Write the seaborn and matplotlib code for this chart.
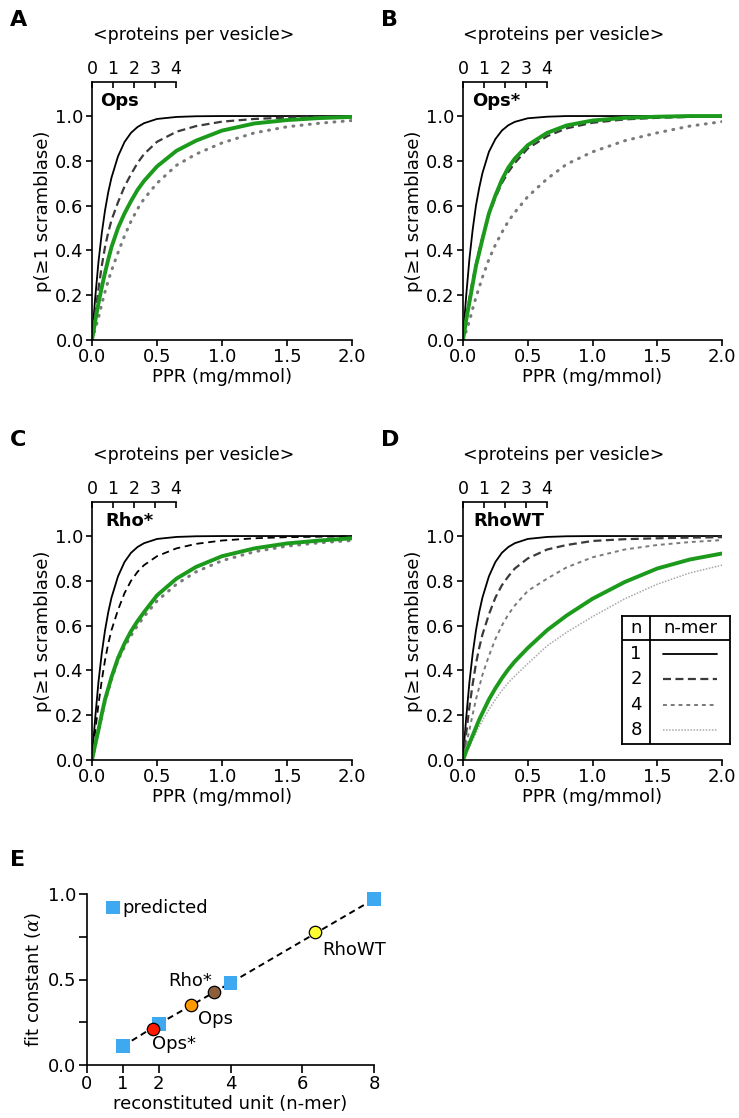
import numpy as np
import pandas as pd
import matplotlib.pyplot as plt
import seaborn as sns

sns.set_theme(style="ticks")
plt.rcParams['font.family'] = ['DejaVu Sans']
plt.rcParams['axes.linewidth'] = 1.2
plt.rcParams['mathtext.fontset'] = 'dejavuserif'
for key in ['text.color', 'axes.labelcolor', 'xtick.color', 'ytick.color', 'axes.edgecolor']:
    plt.rcParams[key] = 'black'

# ---------------- data ----------------
ppr = [0, 0.01, 0.025, 0.05, 0.075, 0.1, 0.125, 0.15, 0.2, 0.25, 0.3, 0.35, 0.4,
       0.5, 0.65, 0.8, 1.0, 1.25, 1.5, 1.75, 2.0]

# panel A: Ops
ops_n1 = [0, 0.083, 0.19, 0.35, 0.476, 0.578, 0.66, 0.725, 0.82, 0.884, 0.925, 0.951, 0.968,
          0.987, 0.996, 0.999, 1.0, 1.0, 1.0, 1.0, 1.0]
ops_n2 = [0, 0.05, 0.12, 0.23, 0.33, 0.415, 0.48, 0.535, 0.615, 0.685, 0.74, 0.79, 0.83,
          0.885, 0.93, 0.955, 0.975, 0.987, 0.993, 0.996, 0.998]
ops_fit = [0, 0.034, 0.085, 0.165, 0.235, 0.30, 0.36, 0.415, 0.50, 0.565, 0.62, 0.67, 0.71,
           0.775, 0.845, 0.89, 0.935, 0.967, 0.982, 0.991, 0.996]
ops_n4 = [0, 0.02, 0.05, 0.10, 0.16, 0.215, 0.265, 0.31, 0.39, 0.465, 0.53, 0.585, 0.63,
          0.70, 0.78, 0.83, 0.88, 0.925, 0.952, 0.968, 0.98]

# panel B: Ops*
opss_n1 = [0, 0.087, 0.2, 0.365, 0.494, 0.6, 0.679, 0.745, 0.84, 0.897, 0.935, 0.959, 0.974,
           0.99, 0.997, 1.0, 1.0, 1.0, 1.0, 1.0, 1.0]
opss_n2 = [0, 0.04, 0.1, 0.19, 0.27, 0.34, 0.40, 0.46, 0.56, 0.635, 0.70, 0.75, 0.79,
           0.855, 0.91, 0.945, 0.97, 0.985, 0.992, 0.996, 0.998]
opss_fit = [0, 0.036, 0.09, 0.17, 0.25, 0.33, 0.39, 0.45, 0.565, 0.645, 0.715, 0.77, 0.81,
            0.87, 0.925, 0.958, 0.98, 0.992, 0.997, 1.0, 1.0]
opss_n4 = [0, 0.016, 0.04, 0.085, 0.14, 0.19, 0.235, 0.28, 0.36, 0.425, 0.48, 0.53, 0.57,
           0.64, 0.72, 0.785, 0.84, 0.89, 0.925, 0.955, 0.975]

# panel C: Rho*
rhos_n1 = [0, 0.083, 0.19, 0.35, 0.476, 0.578, 0.66, 0.725, 0.82, 0.884, 0.925, 0.951, 0.968,
           0.987, 0.996, 0.999, 1.0, 1.0, 1.0, 1.0, 1.0]
rhos_n2 = [0, 0.055, 0.13, 0.25, 0.355, 0.445, 0.52, 0.58, 0.67, 0.745, 0.80, 0.84, 0.87,
           0.91, 0.945, 0.965, 0.98, 0.99, 0.995, 0.997, 0.998]
rhos_fit = [0, 0.028, 0.07, 0.135, 0.205, 0.27, 0.32, 0.37, 0.455, 0.52, 0.575, 0.62, 0.66,
            0.735, 0.81, 0.862, 0.91, 0.945, 0.967, 0.98, 0.99]
rhos_n4 = [0, 0.026, 0.065, 0.13, 0.195, 0.26, 0.31, 0.36, 0.445, 0.505, 0.555, 0.60, 0.64,
           0.71, 0.785, 0.84, 0.89, 0.93, 0.955, 0.97, 0.98]

# panel D: RhoWT
rhowt_n1 = [0, 0.083, 0.19, 0.35, 0.476, 0.578, 0.66, 0.725, 0.82, 0.884, 0.925, 0.951, 0.968,
            0.987, 0.996, 0.999, 1.0, 1.0, 1.0, 1.0, 1.0]
rhowt_n2 = [0, 0.05, 0.12, 0.24, 0.34, 0.43, 0.50, 0.56, 0.65, 0.725, 0.78, 0.82, 0.855,
            0.9, 0.94, 0.96, 0.978, 0.986, 0.99, 0.993, 0.995]
rhowt_n4 = [0, 0.028, 0.07, 0.135, 0.205, 0.27, 0.325, 0.38, 0.465, 0.54, 0.60, 0.65, 0.69,
            0.755, 0.81, 0.86, 0.905, 0.94, 0.96, 0.973, 0.982]
rhowt_fit = [0, 0.015, 0.04, 0.075, 0.11, 0.145, 0.18, 0.21, 0.27, 0.32, 0.365, 0.405, 0.44,
             0.50, 0.58, 0.645, 0.72, 0.795, 0.855, 0.895, 0.922]
rhowt_n8 = [0, 0.012, 0.03, 0.06, 0.09, 0.12, 0.15, 0.175, 0.225, 0.27, 0.31, 0.345, 0.375,
            0.43, 0.51, 0.57, 0.64, 0.72, 0.785, 0.835, 0.87]

# top axis: proteins per vesicle per unit PPR
proteins_per_ppr = 6.19
top_ticks = [0, 1, 2, 3, 4]

# panel E
pred_n = [1, 2, 4, 8]
pred_alpha = [0.11, 0.24, 0.48, 0.97]
meas_names = ['Ops*', 'Ops', 'Rho*', 'RhoWT']
meas_n = [1.83, 2.9, 3.55, 6.35]
meas_alpha = [0.21, 0.35, 0.425, 0.775]
meas_colors = ['#ff1a00', '#ff9a00', '#8c5e3c', '#ffff33']

# ---------------- styles ----------------
GREEN = '#1b9a1b'
st_n1 = dict(color='black', lw=1.3, linestyle='-')
st_n2 = dict(color='#3a3a3a', lw=1.6, linestyle=(0, (3.6, 2.0)))
st_n2c = dict(color='black', lw=1.3, linestyle=(0, (4.0, 2.6)))
st_n4dot = dict(color='#7a7a7a', lw=2.2, linestyle=(0, (0.3, 2.4)), dash_capstyle='round')
st_n4 = dict(color='#7a7a7a', lw=1.4, linestyle=(0, (2.0, 2.0)))
st_n8 = dict(color='#a8a8a8', lw=1.1, linestyle=(0, (1.0, 1.0)))
st_fit = dict(color=GREEN, lw=2.8, linestyle='-')

FS = 13
W, H = 739, 1118
fig = plt.figure(figsize=(W / 100, H / 100), dpi=100)


def px_axes(left, right, bottom, top):
    return fig.add_axes([left / W, 1 - bottom / H, (right - left) / W, (bottom - top) / H])


def draw_panel(ax, curves, title, letter, title_x):
    for vals, st in curves:
        sns.lineplot(x=ppr, y=vals, ax=ax, **st)
    ax.set_xlim(0, 2.0)
    ax.set_ylim(0, 1.152)
    ax.set_xticks([0, 0.5, 1.0, 1.5, 2.0])
    ax.set_xticklabels(['0.0', '0.5', '1.0', '1.5', '2.0'])
    ax.set_yticks([0, 0.2, 0.4, 0.6, 0.8, 1.0])
    ax.set_yticklabels(['0.0', '0.2', '0.4', '0.6', '0.8', '1.0'])
    ax.tick_params(labelsize=FS, length=4, width=1.2, pad=2, color='black')
    for s in ['top', 'right']:
        ax.spines[s].set_visible(False)
    for s in ['left', 'bottom']:
        ax.spines[s].set_color('black')
    ax.set_xlabel('PPR (mg/mmol)', fontsize=FS, labelpad=1)
    ax.set_ylabel('p(≥1 scramblase)', fontsize=FS, labelpad=2)
    ax.text(title_x, 1.065, title, fontsize=13, fontweight='bold', ha='left', va='center')

    # top axis in proteins per vesicle
    top = ax.twiny()
    top.set_xlim(0, 2.0 * proteins_per_ppr)
    top.set_xticks(top_ticks)
    top.tick_params(axis='x', direction='in', length=4, width=1.2, labelsize=12.5, pad=3,
                    color='black')
    for s in ['left', 'right', 'bottom']:
        top.spines[s].set_visible(False)
    top.spines['top'].set_bounds(0, 4)
    top.spines['top'].set_color('black')
    top.grid(False)

    bb = ax.get_position()
    fig.text(bb.x0 + 0.39 * bb.width, bb.y1 + 0.042, '<proteins per vesicle>',
             fontsize=12.5, ha='center', va='center')
    fig.text(bb.x0 - 0.111, bb.y1 + 0.0555, letter, fontsize=16, fontweight='bold',
             ha='left', va='center')


axA = px_axes(92, 352, 340, 82)
axB = px_axes(463, 722, 340, 82)
axC = px_axes(92, 352, 760, 502)
axD = px_axes(463, 722, 760, 502)

draw_panel(axA, [(ops_n1, st_n1), (ops_n2, st_n2), (ops_n4, st_n4dot), (ops_fit, st_fit)],
           'Ops', 'A', 0.06)
draw_panel(axB, [(opss_n1, st_n1), (opss_n2, st_n2), (opss_n4, st_n4dot), (opss_fit, st_fit)],
           'Ops*', 'B', 0.07)
draw_panel(axC, [(rhos_n1, st_n1), (rhos_n2, st_n2c), (rhos_n4, st_n4dot), (rhos_fit, st_fit)],
           'Rho*', 'C', 0.1)
draw_panel(axD, [(rhowt_n1, st_n1), (rhowt_n2, st_n2), (rhowt_n4, st_n4), (rhowt_n8, st_n8),
                 (rhowt_fit, st_fit)],
           'RhoWT', 'D', 0.08)

# legend table in panel D
leg = px_axes(622, 730, 744, 616)
leg.set_xlim(0, 108)
leg.set_ylim(128, 0)
leg.set_xticks([])
leg.set_yticks([])
leg.set_facecolor('white')
for s in leg.spines.values():
    s.set_visible(True)
    s.set_color('black')
    s.set_linewidth(1.3)
leg.axvline(28, color='black', lw=1.3)
leg.axhline(23.6, color='black', lw=1.3)
leg.text(14, 12, 'n', fontsize=FS, ha='center', va='center')
leg.text(68, 12, 'n-mer', fontsize=FS, ha='center', va='center')
for lab, yy, st in zip(['1', '2', '4', '8'], [37.6, 62.6, 88.6, 114.3], [st_n1, st_n2, st_n4, st_n8]):
    leg.text(14, yy, lab, fontsize=FS, ha='center', va='center')
    leg.plot([40.7, 94.7], [yy, yy], **st)

# ---------------- panel E ----------------
axE = px_axes(87, 374, 1065, 894)
sns.lineplot(x=pred_n, y=pred_alpha, ax=axE, color='black', lw=1.4, linestyle=(0, (3.2, 2.2)))
sns.scatterplot(x=pred_n, y=pred_alpha, ax=axE, marker='s', s=95, color='#3ea8f0',
                edgecolor='none', zorder=3, clip_on=False)
for xx, yy, c in zip(meas_n, meas_alpha, meas_colors):
    axE.scatter([xx], [yy], s=80, color=c, edgecolor='black', linewidth=0.9, zorder=4)
axE.set_xlim(0, 8)
axE.set_ylim(0, 1)
axE.set_xticks([0, 1, 2, 4, 6, 8])
axE.set_yticks([0, 0.5, 1.0])
axE.set_yticklabels(['0.0', '0.5', '1.0'])
axE.set_yticks([0.25, 0.75], minor=True)
axE.tick_params(which='both', labelsize=FS, length=5.5, width=1.2, pad=2, color='black')
for s in ['top', 'right']:
    axE.spines[s].set_visible(False)
for s in ['left', 'bottom']:
    axE.spines[s].set_color('black')
axE.set_xlabel('reconstituted unit (n-mer)', fontsize=FS, labelpad=1)
axE.set_ylabel(r'fit constant ($\alpha$)', fontsize=FS, labelpad=4)

axE.scatter([0.73], [0.92], marker='s', s=95, color='#3ea8f0', edgecolor='none', clip_on=False)
axE.text(1.0, 0.92, 'predicted', fontsize=FS, ha='left', va='center')
axE.text(1.82, 0.125, 'Ops*', fontsize=FS, ha='left', va='center')
axE.text(3.1, 0.27, 'Ops', fontsize=FS, ha='left', va='center')
axE.text(3.5, 0.49, 'Rho*', fontsize=FS, ha='right', va='center')
axE.text(6.55, 0.67, 'RhoWT', fontsize=FS, ha='left', va='center')
fig.text(10 / W, 1 - 860 / H, 'E', fontsize=16, fontweight='bold', ha='left', va='center')

plt.savefig('out.png', dpi=100)
